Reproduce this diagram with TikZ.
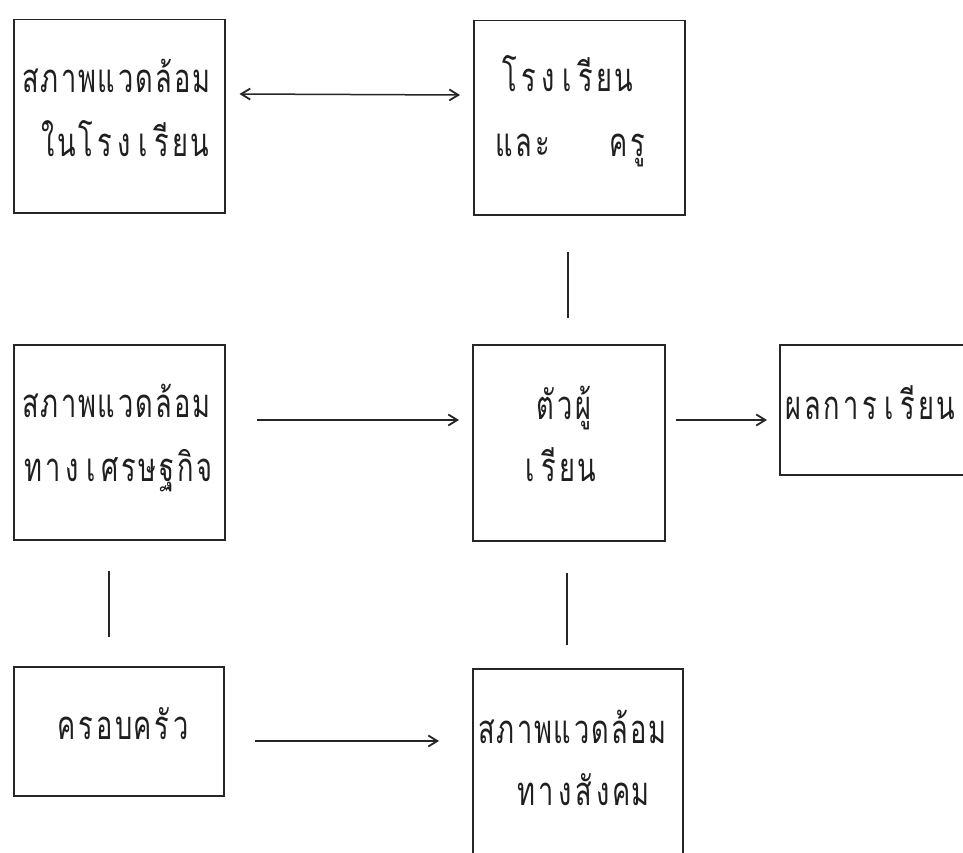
\documentclass[tikz,border=0pt]{standalone}
\usepackage{fontspec}
\newfontfamily\thaifont[Script=Thai,FakeStretch=0.68]{Loma}
\usetikzlibrary{arrows.meta,calc}
\newcommand\tc[1]{\makebox[19pt][c]{#1}}
\newcommand\tgap{\hspace*{19pt}}
\begin{document}
\begin{tikzpicture}[x=1pt,y=-1pt,
  box/.style={draw=black!85, line width=1.5pt, anchor=north west, inner sep=0pt},
  conn/.style={draw=black!85, line width=1.5pt},
  tip/.tip={Straight Barb[length=9pt,width=11pt,line width=1.8pt]},
  arr/.style={conn, -tip},
  txt/.style={anchor=base west, inner sep=0pt, text=black!88, font=\thaifont\fontsize{40pt}{44pt}\selectfont}]
\clip (0,0) rectangle (963,853);
\fill[white] (0,0) rectangle (963,853);
% boxes
\node[box, minimum width=211pt, minimum height=193pt] (A) at (13,19) {};
\node[box, minimum width=211pt, minimum height=194pt] (B) at (473,20) {};
\node[box, minimum width=211pt, minimum height=195pt] (D) at (13,344) {};
\node[box, minimum width=192pt, minimum height=196pt] (C) at (472,344) {};
\node[box, minimum width=184pt, minimum height=130pt] (E) at (779,344) {};
\node[box, minimum width=210pt, minimum height=129pt] (F) at (13,666) {};
\node[box, minimum width=210pt, minimum height=200pt] (G) at (472,668) {};
% texts
\node[txt] (a1) at (21,93) {\tc{ส}\tc{ภ}\tc{า}\tc{พ}\tc{แ}\tc{ว}\tc{ด}\tc{ล้}\tc{อ}\tc{ม}};
\node[txt] (a2) at (38,157) {\tc{ใ}\tc{น}\tc{โ}\tc{ร}\tc{ง}\tc{เ}\tc{รี}\tc{ย}\tc{น}};
\node[txt] (b1) at (500,92) {\tc{โ}\tc{ร}\tc{ง}\tc{เ}\tc{รี}\tc{ย}\tc{น}};
\node[txt] (b2) at (495,157) {\tc{แ}\tc{ล}\tc{ะ}\tgap\tgap\tgap\tc{ค}\tc{รู}};
\node[txt] (d1) at (21,417) {\tc{ส}\tc{ภ}\tc{า}\tc{พ}\tc{แ}\tc{ว}\tc{ด}\tc{ล้}\tc{อ}\tc{ม}};
\node[txt] (d2) at (24,481) {\tc{ท}\tc{า}\tc{ง}\tc{เ}\tc{ศ}\tc{ร}\tc{ษ}\tc{ฐ}\tc{กิ}\tc{จ}};
\node[txt] (c1) at (536,419) {\tc{ตั}\tc{ว}\tc{ผู้}};
\node[txt] (c2) at (520,481) {\tc{เ}\tc{รี}\tc{ย}\tc{น}};
\node[txt] (e1) at (784,419) {\tc{ผ}\tc{ล}\tc{ก}\tc{า}\tc{ร}\tc{เ}\tc{รี}\tc{ย}\tc{น}};
\node[txt] (f1) at (57,739) {\tc{ค}\tc{ร}\tc{อ}\tc{บ}\tc{ค}\tc{รั}\tc{ว}};
\node[txt] (g1) at (477,743) {\tc{ส}\tc{ภ}\tc{า}\tc{พ}\tc{แ}\tc{ว}\tc{ด}\tc{ล้}\tc{อ}\tc{ม}};
\node[txt] (g2) at (517,805) {\tc{ท}\tc{า}\tc{ง}\tc{สั}\tc{ง}\tc{ค}\tc{ม}};
% connectors
\draw[conn, tip-tip] ($(A.north east)+(14,75)$) -- ($(B.north west)+(-13,75)$);
\draw[conn] ($(B.south west)+(95,36)$) -- ($(C.north west)+(96,-26)$);
\draw[arr] ($(D.north east)+(31,76)$) -- ($(C.north west)+(-13,76)$);
\draw[arr] ($(C.north east)+(10,76)$) -- ($(E.north west)+(-12,76)$);
\draw[conn] ($(D.south west)+(96,30)$) -- ($(F.north west)+(96,-29)$);
\draw[conn] ($(C.south west)+(95,31)$) -- ($(G.north west)+(95,-23)$);
\draw[arr] ($(F.north east)+(30,75)$) -- ($(G.north west)+(-33,73)$);
\end{tikzpicture}
\end{document}
